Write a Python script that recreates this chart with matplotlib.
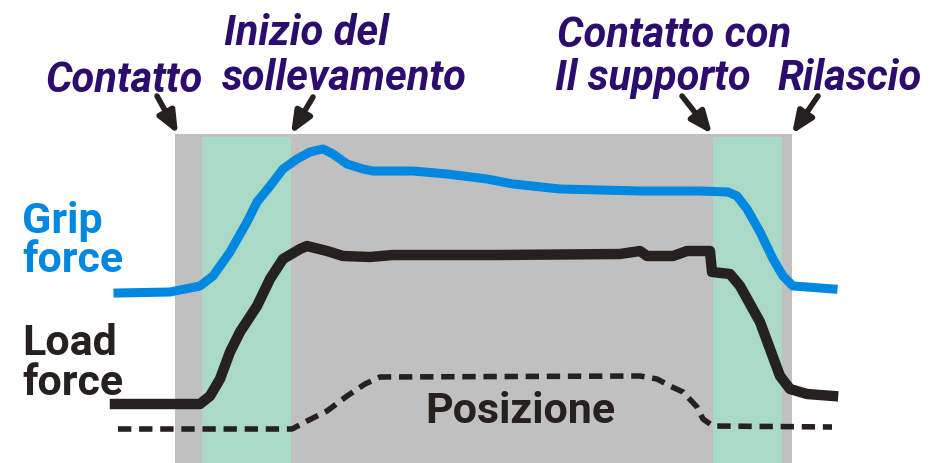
import matplotlib
matplotlib.use("Agg")
import matplotlib.pyplot as plt

# phase boundaries (x, in picture units)
contact_x = 175
lift_x = 291
support_x = 713
release_x = 792
green1 = (202, 291)
green2 = (713, 782)
box_top = 135
green_top = 138

grip_x = [118, 170, 200, 213, 230, 247, 257, 270, 283, 297, 310, 323, 333, 347, 363,
          373, 413, 447, 487, 513, 560, 640, 700, 728, 737, 747, 760, 773, 783, 793, 807, 833]
grip_y = [294, 293, 287, 277, 253, 223, 203, 187, 170, 160, 153, 150, 155, 165, 170,
          172, 172, 175, 180, 185, 190, 192, 192, 193, 197, 210, 233, 260, 277, 287, 288, 290]

load_x = [115, 200, 210, 220, 230, 240, 257, 270, 283, 300, 307, 327, 343, 370, 393,
          500, 620, 640, 647, 673, 687, 710, 712, 730, 740, 760, 770, 780, 790, 807, 833]
load_y = [405, 405, 397, 380, 353, 333, 307, 280, 260, 250, 247, 252, 257, 258, 256,
          256, 255, 252, 257, 257, 252, 252, 273, 275, 287, 323, 350, 377, 390, 395, 397]

pos_x = [118, 292, 307, 327, 347, 365, 380, 640, 657, 670, 683, 697, 703, 713, 832]
pos_y = [430, 430, 422, 412, 397, 385, 378, 377, 380, 387, 393, 408, 420, 427, 428]

PURPLE = "#2c0c6c"
BLUE = "#0088e0"
BLACK = "#24211e"
GRAY = "#c0c0c0"
GREEN = "#aadac6"
FONT = ["Roboto", "Liberation Sans", "DejaVu Sans"]

fig = plt.figure(figsize=(9.38, 4.64), dpi=100)
ax = fig.add_axes([0, 0, 1, 1])
ax.set_xlim(0, 938)
ax.set_ylim(464, 0)
ax.axis("off")

ax.fill_between([contact_x, release_x], box_top, 464, color=GRAY, lw=0, zorder=1)
for g in (green1, green2):
    ax.fill_between(list(g), green_top, 464, color=GREEN, lw=0, zorder=2)

ax.plot(grip_x, grip_y, color=BLUE, lw=6.5, solid_joinstyle="round", zorder=4)
ax.plot(load_x, load_y, color=BLACK, lw=7.5, solid_joinstyle="round", zorder=4)
ax.plot(pos_x, pos_y, color=BLACK, lw=4, dashes=(2.4, 1.4), zorder=4)

# event labels (text, x, baseline y, alignment)
labels = [
    ("Contatto", 45, 92, "left"),
    ("Inizio del", 224, 45, "left"),
    ("sollevamento", 222, 90, "left"),
    ("Contatto con", 557, 47, "left"),
    ("Il supporto", 555, 90, "left"),
    ("Rilascio", 922, 90, "right"),
]
for txt, x, y, ha in labels:
    ax.text(x, y, txt, color=PURPLE, fontsize=30, fontweight="bold",
            fontstyle="italic", family=FONT, va="baseline", ha=ha)

arrows = [((157, 97), (178, 135)), ((313, 98), (291, 135)),
          ((682, 97), (712, 135)), ((818, 97), (792, 135))]
for tail, tip in arrows:
    ax.annotate("", xy=tip, xytext=tail,
                arrowprops=dict(arrowstyle="-|>,head_length=1.3,head_width=0.55",
                                lw=4, color=BLACK, shrinkA=0, shrinkB=0),
                zorder=5)

ax.text(22, 233, "Grip", color=BLUE, fontsize=31, fontweight="bold", family=FONT, va="baseline")
ax.text(22, 272, "force", color=BLUE, fontsize=31, fontweight="bold", family=FONT, va="baseline")
ax.text(22, 355, "Load", color=BLACK, fontsize=31, fontweight="bold", family=FONT, va="baseline")
ax.text(22, 395, "force", color=BLACK, fontsize=31, fontweight="bold", family=FONT, va="baseline")
ax.text(425, 423, "Posizione", color=BLACK, fontsize=31, fontweight="bold", family=FONT,
        va="baseline", zorder=5)

fig.savefig("out.png", dpi=100)
